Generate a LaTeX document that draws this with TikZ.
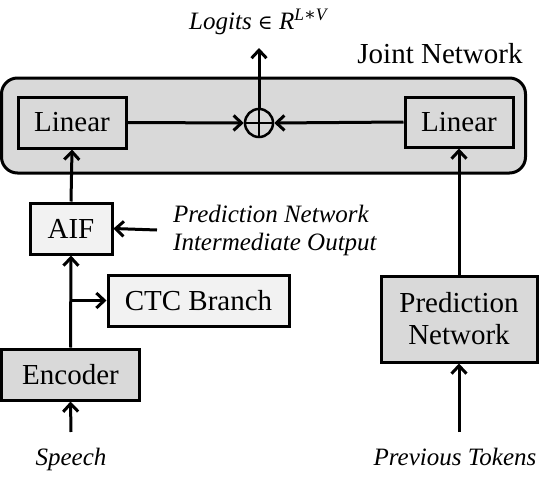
\documentclass[tikz,border=0pt]{standalone}
\usepackage{fontspec}
\setmainfont{Liberation Serif}
\newfontfamily\symfont{DejaVu Serif}
\usetikzlibrary{arrows.meta}
\definecolor{darkfill}{HTML}{D9D9D9}
\definecolor{lightfill}{HTML}{F2F2F2}
\tikzset{
  box/.style={draw=black, line width=3pt, inner sep=0pt, align=center, font=\fontsize{29}{32}\selectfont},
  darkbox/.style={box, fill=darkfill},
  lightbox/.style={box, fill=lightfill},
  arr/.style={line width=3pt, -{Straight Barb[length=8pt,width=15pt,line width=3pt]}},
  lab/.style={inner sep=0pt, font=\fontsize{25}{28}\selectfont\itshape, align=left},
}
\begin{document}
\begin{tikzpicture}[x=1pt,y=-1pt]
\useasboundingbox (0,0) rectangle (560,479);
% joint network background
\node[draw=black, line width=3pt, fill=darkfill, rounded corners=16pt, inner sep=0pt,
      minimum width=524pt, minimum height=95pt] (joint) at (263.5,125.5) {};
\node[inner sep=0pt, font=\fontsize{29}{32}\selectfont, anchor=base] (jlab) at (440,63) {Joint Network};
\node[darkbox, minimum width=108pt, minimum height=51pt] (linL) at (72,122.5) {Linear};
\node[darkbox, minimum width=108pt, minimum height=50pt] (linR) at (459,122) {Linear};
\node[draw=black, line width=2.5pt, circle, minimum size=28pt, inner sep=0pt] (sum) at (259,123) {};
\draw[line width=2.5pt] (sum.north) -- (sum.south) (sum.west) -- (sum.east);
\coordinate (top) at (259,48);
\node[inner sep=0pt, font=\fontsize{25}{28}\selectfont, anchor=base] (logits) at (259,30)
  {\textit{Logits} {\symfont\fontsize{20}{24}\selectfont ∈} \textit{R}\textsuperscript{\textit{L}{\symfont ∗}\textit{V}}};
% left column
\node[lightbox, minimum width=82pt, minimum height=51pt] (aif) at (71,228.5) {AIF};
\node[lightbox, minimum width=181pt, minimum height=51pt] (ctc) at (198.5,300.5) {CTC Branch};
\node[darkbox, minimum width=138pt, minimum height=51pt] (enc) at (70.5,374.5) {Encoder};
\node[lab, anchor=west] (pni) at (173,230) {Prediction Network\\Intermediate Output};
\coordinate (pnistart) at (157,230);
\node[lab, anchor=base] (speech) at (71,465) {Speech};
\coordinate (speechtop) at (71,432);
\coordinate (branch) at (71,300.5);
% right column
\node[darkbox, minimum width=156pt, minimum height=86pt] (pn) at (459,319) {Prediction\\Network};
\node[lab, anchor=base] (prev) at (455,465) {Previous Tokens};
\coordinate (prevtop) at (459,432);
% connectors
\draw[arr] (linL.east) -- (sum.west);
\draw[arr] (linR.west) -- (sum.east);
\draw[arr] (sum.north) -- (top);
\draw[arr] (aif.north) -- (linL.south);
\draw[arr] (pn.north) -- (linR.south);
\draw[arr] (enc.north) -- (aif.south);
\draw[arr] (branch) -- (ctc.west);
\draw[arr] (pnistart) -- (aif.east);
\draw[arr] (speechtop) -- (enc.south);
\draw[arr] (prevtop) -- (pn.south);
\end{tikzpicture}
\end{document}
